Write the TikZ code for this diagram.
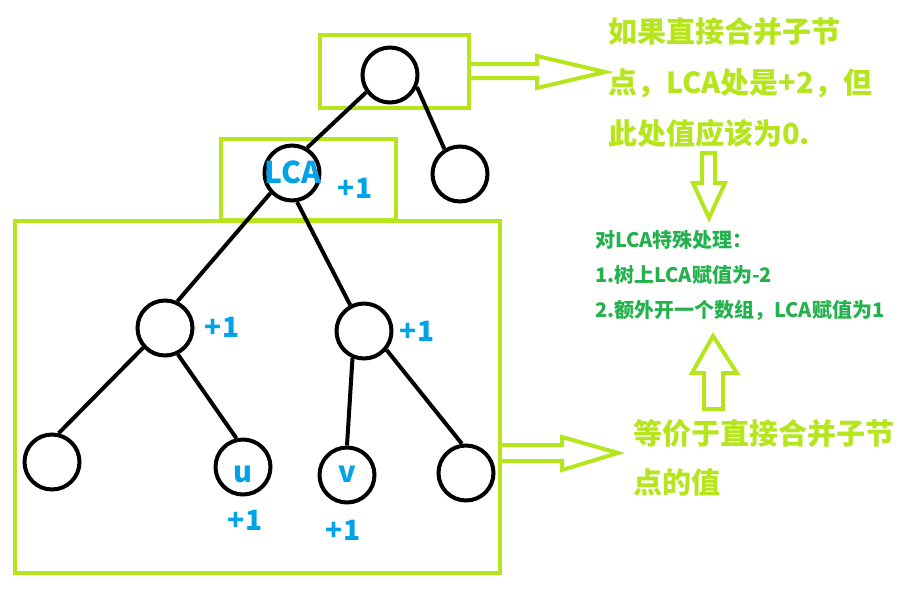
\documentclass[tikz,border=0pt]{standalone}
\usepackage{fontspec}
\usepackage{tikz}
\newfontfamily\cjk{Noto Sans CJK SC}
\definecolor{Paint_Lime}{HTML}{B5E61D}
\definecolor{Paint_Sky}{HTML}{00A2E8}
\definecolor{Paint_Green}{HTML}{22B14C}

\begin{document}
\begin{tikzpicture}[x=1pt, y=-1pt,
  vertex/.style={circle, draw=black, line width=4pt, minimum size=55pt, inner sep=0pt},
  edge/.style={line width=4pt, black},
  frame/.style={line width=4pt, Paint_Lime},
  hollow/.style={line width=4pt, Paint_Lime, line join=miter},
  mark1/.style={font={\cjk\bfseries\fontsize{28}{30}\selectfont}, text=Paint_Sky, inner sep=0pt},
  bigtxt/.style={font={\cjk\bfseries\fontsize{29}{32}\selectfont}, text=Paint_Lime, anchor=west, inner sep=0pt},
  smalltxt/.style={font={\cjk\bfseries\fontsize{20}{22}\selectfont}, text=Paint_Green, anchor=west, inner sep=0pt}]
\useasboundingbox (0,0) rectangle (915,595);
% --- Frames around the tree ---
\draw[frame] (320,35) rectangle (469,108);
\draw[frame] (221,139) rectangle (396,220);
\draw[frame] (15,221) rectangle (500,573);
% --- Tree nodes ---
\node[vertex] (root) at (390,75) {};
\node[vertex] (rc) at (460,174) {};
\node[vertex] (lca) at (292,173) {};
\node[vertex] (ml) at (165,328) {};
\node[vertex] (mr) at (364,331) {};
\node[vertex] (l1) at (52,462) {};
\node[vertex] (lu) at (243,467) {};
\node[vertex] (lv) at (347,475) {};
\node[vertex] (l4) at (466,473) {};
% --- Tree edges ---
\draw[edge] (root.216) -- (lca.59);
\draw[edge] (root.-24) -- (rc.122);
\draw[edge] (lca.223) -- (ml.65);
\draw[edge] (lca.-80) -- (mr.118);
\draw[edge] (ml.222) -- (l1.77);
\draw[edge] (ml.-64) -- (lu.103);
\draw[edge] (mr.-113) -- (lv.90);
\draw[edge] (mr.-40) -- (l4.98);
% --- Labels in blue ---
\node[mark1, font={\cjk\bfseries\fontsize{30}{32}\selectfont}] (lcaname) at (293,172) {LCA};
\node[mark1, font={\cjk\bfseries\fontsize{29}{31}\selectfont}] (uname) at (243,474) {u};
\node[mark1, font={\cjk\bfseries\fontsize{29}{31}\selectfont}] (vname) at (347,474) {v};
\node[mark1] (p1) at (355,188) {+1};
\node[mark1] (p2) at (222,327) {+1};
\node[mark1] (p3) at (417,331) {+1};
\node[mark1] (p4) at (245,520) {+1};
\node[mark1] (p5) at (343,530) {+1};
% --- Hollow arrows ---
\draw[hollow] (470,64) -- (537,64) -- (537,56) -- (605,72) -- (537,88) -- (537,78) -- (470,78);
\draw[hollow] (500,445) -- (562,445) -- (562,437) -- (618,453) -- (562,470) -- (562,461) -- (500,461);
\draw[hollow] (702,153) -- (715,153) -- (715,183) -- (725,183) -- (709,218) -- (693,183) -- (702,183) -- cycle;
\draw[hollow] (704,409) -- (723,409) -- (723,373) -- (737,373) -- (713,336) -- (692,373) -- (704,373) -- cycle;
% --- Notes on the right ---
\node[bigtxt] (t1) at (608,32) {如果直接合并子节};
\node[bigtxt] (t2) at (608,83) {点，LCA处是+2，但};
\node[bigtxt] (t3) at (608,133) {此处值应该为0.};
\node[smalltxt] (s1) at (595,240) {对LCA特殊处理：};
\node[smalltxt] (s2) at (595,275) {1.树上LCA赋值为-2};
\node[smalltxt] (s3) at (595,310) {2.额外开一个数组，LCA赋值为1};
\node[bigtxt] (b1) at (633,433) {等价于直接合并子节};
\node[bigtxt] (b2) at (633,482) {点的值};
\end{tikzpicture}
\end{document}
